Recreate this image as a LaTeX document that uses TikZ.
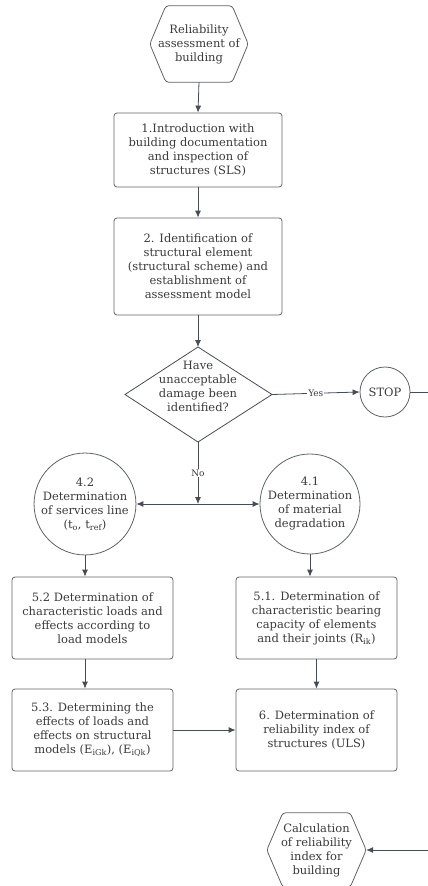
\documentclass[tikz,border=0pt]{standalone}
\usepackage{fontspec}
\setmainfont{DejaVu Serif}
\usetikzlibrary{arrows.meta,calc}
\definecolor{linec}{HTML}{474D56}
\definecolor{boxc}{HTML}{5E636A}
\definecolor{txtc}{HTML}{3A3A3A}
\begin{document}
\begin{tikzpicture}[x=1pt,y=-1pt,
  every node/.style={font=\fontsize{11.5}{14}\selectfont, text=txtc, align=center, inner sep=0pt},
  procbox/.style={draw=boxc, line width=0.8pt, rounded corners=3pt},
  hexline/.style={draw=boxc, line width=0.8pt, rounded corners=3pt},
  roundnode/.style={draw=boxc, line width=0.8pt, circle},
  conn/.style={draw=linec, line width=0.8pt, -{Latex[length=7pt,width=6pt]}},
  plain/.style={draw=linec, line width=0.8pt},
  lbl/.style={font=\fontsize{9}{10}\selectfont, fill=white, inner sep=1pt}]
\useasboundingbox (0,0) rectangle (428,886);

% start hexagon
\node[minimum width=98pt, minimum height=76pt] (start) at (199,44) {Reliability\\assessment of\\building};
\draw[hexline] (start.west) -- ($(start.north west)+(16,0)$) -- ($(start.north east)+(-16,0)$) -- (start.east) -- ($(start.south east)+(-16,0)$) -- ($(start.south west)+(16,0)$) -- cycle;

\node[procbox, minimum width=168pt, minimum height=74pt] (b1) at (198,150) {1.Introduction with\\building documentation\\and inspection of\\structures (SLS)};
\node[procbox, minimum width=168pt, minimum height=97pt] (b2) at (198,266.5) {2. Identification of\\structural element\\(structural scheme) and\\establishment of\\assessment model};

% decision diamond
\coordinate (dN) at (198,347);
\coordinate (dE) at (272,394.5);
\coordinate (dS) at (198,442);
\coordinate (dW) at (125,394.5);
\draw[plain] (dN) -- (dE) -- (dS) -- (dW) -- cycle;
\node (q) at (198,386) {Have\\unacceptable\\damage been\\identified?};

\node[roundnode, minimum size=50pt] (stop) at (385,392) {STOP};
\coordinate (out1) at (430,392);

\coordinate (jn) at (198,504);
\node[roundnode, minimum size=100pt] (c42) at (85,504) {4.2\\Determination\\of services line\\(t\textsubscript{o}, t\textsubscript{ref})};
\node[roundnode, minimum size=100pt] (c41) at (310,504) {4.1\\Determination\\of material\\degradation};

\node[procbox, minimum width=161pt, minimum height=82pt] (b52) at (92.5,618) {5.2 Determination of\\characteristic loads and\\effects according to\\load models};
\node[procbox, minimum width=161pt, minimum height=82pt] (b51) at (316.5,618) {5.1. Determination of\\characteristic bearing\\capacity of elements\\and their joints (R\textsubscript{ik})};
\node[procbox, minimum width=161pt, minimum height=82pt] (b53) at (92.5,730) {5.3. Determining the\\effects of loads and\\effects on structural\\models (E\textsubscript{iGk}), (E\textsubscript{iQk})};
\node[procbox, minimum width=161pt, minimum height=82pt] (b6) at (316.5,730) {6. Determination of\\reliability index of\\structures (ULS)};

% end hexagon
\node[minimum width=99pt, minimum height=74pt] (endh) at (316.5,850) {Calculation\\of reliability\\index for\\building};
\draw[hexline] (endh.west) -- ($(endh.north west)+(16,0)$) -- ($(endh.north east)+(-16,0)$) -- (endh.east) -- ($(endh.south east)+(-16,0)$) -- ($(endh.south west)+(16,0)$) -- cycle;
\coordinate (in1) at (430,850);

% connectors
\draw[conn] (start.south) -- (b1.north);
\draw[conn] (b1.south) -- (b2.north);
\draw[conn] (b2.south) -- (dN);
\draw[conn] (dE) -- node[lbl] {Yes} (stop.west);
\draw[plain] (stop.east) -- (out1);
\draw[conn] (dS) -- node[lbl] {No} (jn);
\draw[conn] (jn) -- (c42.east);
\draw[conn] (jn) -- (c41.west);
\draw[conn] (c42.south) -- (c42.south |- b52.north);
\draw[conn] (c41.south) -- (c41.south |- b51.north);
\draw[conn] (b52.south -| c42.south) -- (b53.north -| c42.south);
\draw[conn] (b51.south) -- (b6.north);
\draw[conn] (b53.east) -- (b6.west);
\draw[conn] (in1) -- (endh.east);
\end{tikzpicture}
\end{document}
